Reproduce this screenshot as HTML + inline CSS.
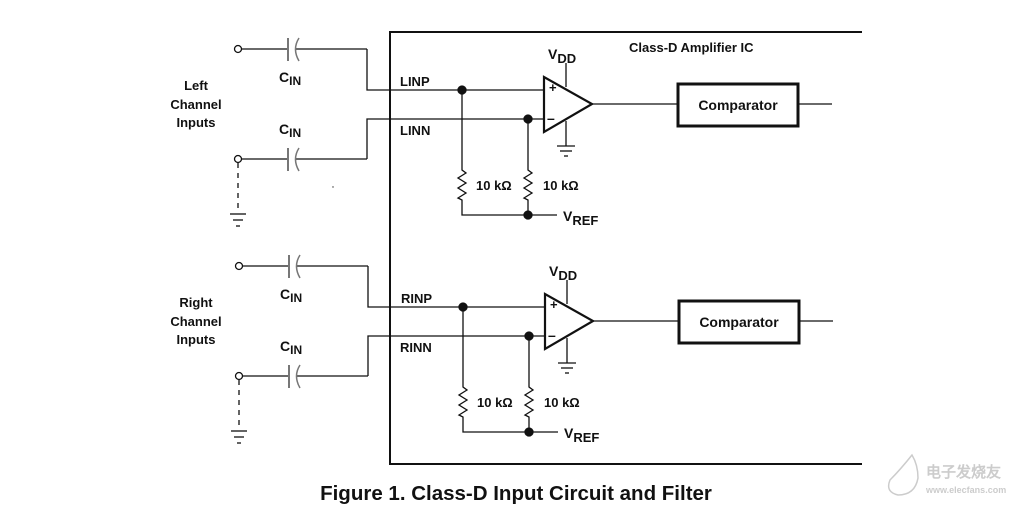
<!DOCTYPE html>
<html><head><meta charset="utf-8"><style>
html,body{margin:0;padding:0;background:#fff;}
svg{display:block;}
text{font-family:"Liberation Sans",Arial,sans-serif;font-weight:bold;fill:#111;}
</style></head><body>
<svg width="1031" height="506" viewBox="0 0 1031 506" xmlns="http://www.w3.org/2000/svg">
<defs>
<g id="ch" stroke="#111" fill="none" stroke-width="1.3">
  <circle cx="238" cy="49" r="3.5" fill="#fff"/>
  <circle cx="238" cy="159" r="3.5" fill="#fff"/>
  <line x1="242" y1="49" x2="288" y2="49"/>
  <line x1="296" y1="49" x2="367" y2="49"/>
  <line x1="242" y1="159" x2="288" y2="159"/>
  <line x1="296" y1="159" x2="367" y2="159"/>
  <line x1="288" y1="38" x2="288" y2="61" stroke="#777" stroke-width="2"/>
  <path d="M299 38 Q292 49 299 61" stroke="#777" stroke-width="1.5"/>
  <line x1="288" y1="148" x2="288" y2="171" stroke="#777" stroke-width="2"/>
  <path d="M299 148 Q292 159 299 171" stroke="#777" stroke-width="1.5"/>
  <polyline points="367,49 367,90 545,90"/>
  <polyline points="367,159 367,119 545,119"/>
  <polyline points="462,90 462,170 466,173 458,178 466,183 458,188 466,193 458,198 462,200 462,215 528,215"/>
  <polyline points="528,119 528,170 532,173 524,178 532,183 524,188 532,193 524,198 528,200 528,215 557,215"/>
  <circle cx="462" cy="90" r="4" fill="#111"/>
  <circle cx="528" cy="119" r="4" fill="#111"/>
  <circle cx="528" cy="215" r="4" fill="#111"/>
  <line x1="238" y1="163" x2="238" y2="210" stroke-dasharray="5,5"/>
  <line x1="230" y1="214" x2="246" y2="214"/>
  <line x1="233" y1="220" x2="243" y2="220"/>
  <line x1="236" y1="226" x2="240" y2="226"/>
  <polygon points="544,77 544,132 592,104" stroke-width="2.2"/>
  <line x1="566" y1="63" x2="566" y2="87"/>
  <line x1="566" y1="121" x2="566" y2="146"/>
  <line x1="557" y1="146" x2="575" y2="146"/>
  <line x1="560" y1="151" x2="572" y2="151"/>
  <line x1="564" y1="156" x2="568" y2="156"/>
  <line x1="592" y1="104" x2="677" y2="104"/>
  <rect x="678" y="84" width="120" height="42" stroke-width="3"/>
  <line x1="798" y1="104" x2="832" y2="104"/>
</g>
<g id="chtxt">
  <text x="279" y="82" font-size="14">C<tspan font-size="12" dy="3">IN</tspan></text>
  <text x="279" y="134" font-size="14">C<tspan font-size="12" dy="3">IN</tspan></text>
  <text x="476" y="190" font-size="13">10 kΩ</text>
  <text x="543" y="190" font-size="13">10 kΩ</text>
  <text x="548" y="59" font-size="14">V<tspan font-size="13" dy="4">DD</tspan></text>
  <text x="563" y="221" font-size="14">V<tspan font-size="13" dy="4">REF</tspan></text>
  <text x="549" y="92" font-size="13">+</text>
  <text x="547" y="123" font-size="14">–</text>
  <text x="738" y="110" font-size="14" text-anchor="middle">Comparator</text>
</g>
</defs>
<polyline points="862,32 390,32 390,464 862,464" stroke="#111" fill="none" stroke-width="2"/>
<text x="629" y="52" font-size="13">Class-D Amplifier IC</text>
<use href="#ch"/>
<use href="#chtxt"/>
<use href="#ch" transform="translate(1,217)"/>
<use href="#chtxt" transform="translate(1,217)"/>
<text x="400" y="86" font-size="13">LINP</text>
<text x="400" y="135" font-size="13">LINN</text>
<text x="401" y="303" font-size="13">RINP</text>
<text x="400" y="352" font-size="13">RINN</text>
<g font-size="13" text-anchor="middle">
<text x="196" y="90">Left</text><text x="196" y="109">Channel</text><text x="196" y="127">Inputs</text>
<text x="196" y="307">Right</text><text x="196" y="326">Channel</text><text x="196" y="344">Inputs</text>
</g>
<circle cx="333" cy="187" r="0.7" fill="#333"/>
<text x="516" y="500" font-size="20.5" text-anchor="middle">Figure 1.  Class-D Input Circuit and Filter</text>
<g stroke="#ccc" fill="none" stroke-width="1.5">
<path d="M912 455 Q900 470 890 480 Q885 492 898 495 Q915 495 918 478 Q918 465 912 455 Z"/>
</g>
<text x="926" y="477" font-size="15" style="fill:#ccc">电子发烧友</text>
<text x="926" y="493" font-size="9" style="fill:#ccc">www.elecfans.com</text>
</svg>
</body></html>
